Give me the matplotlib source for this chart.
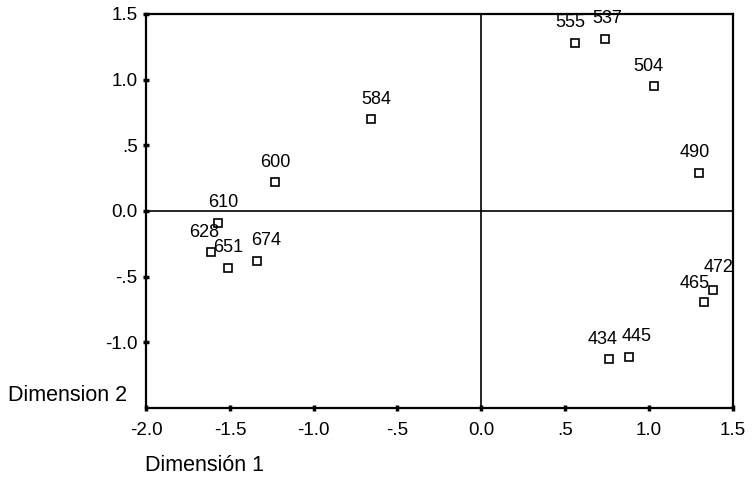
import numpy as np
import matplotlib
matplotlib.use("Agg")
import matplotlib.pyplot as plt

# MDS coordinates
labels = ["555", "537", "504", "490", "472", "465", "434", "445",
          "584", "600", "610", "628", "651", "674"]
dim1 = [0.56, 0.74, 1.03, 1.30, 1.38, 1.33, 0.76, 0.88,
        -0.66, -1.23, -1.57, -1.61, -1.51, -1.34]
dim2 = [1.28, 1.31, 0.95, 0.29, -0.60, -0.69, -1.13, -1.11,
        0.70, 0.22, -0.09, -0.31, -0.43, -0.38]

xticks = [-2.0, -1.5, -1.0, -0.5, 0.0, 0.5, 1.0, 1.5]
xticklabels = ["-2.0", "-1.5", "-1.0", "-.5", "0.0", ".5", "1.0", "1.5"]
yticks = [-1.0, -0.5, 0.0, 0.5, 1.0, 1.5]
yticklabels = ["-1.0", "-.5", "0.0", ".5", "1.0", "1.5"]

# small label nudges (pixels) for the crowded ones
nudge = {"555": (-5, 20), "537": (2, 20), "628": (-7, 19), "465": (-9, 18),
         "472": (6, 22), "674": (9, 20), "445": (8, 20), "434": (-6, 20),
         "584": (6, 20), "504": (-6, 20), "490": (-4, 20), "610": (5, 20)}

plt.rcParams['font.family'] = ['Liberation Sans', 'DejaVu Sans']

fig = plt.figure(figsize=(7.53, 4.79), dpi=100)
ax = fig.add_axes([0.194, 0.148, 0.779, 0.823])

ax.axhline(0, color='black', lw=1.2, zorder=1)
ax.axvline(0, color='black', lw=1.2, zorder=1)

ax.plot(dim1, dim2, linestyle='none', marker='s', markersize=5.5,
        markerfacecolor='white', markeredgecolor='black', markeredgewidth=1.2,
        zorder=3)

for lab, x, y in zip(labels, dim1, dim2):
    ax.annotate(lab, (x, y), xytext=nudge.get(lab, (0, 20)),
                textcoords='offset pixels', ha='center', va='center',
                fontsize=13, color='black')

ax.set_xlim(-2.0, 1.5)
ax.set_ylim(-1.5, 1.5)
ax.set_xticks(xticks)
ax.set_xticklabels(xticklabels)
ax.set_yticks(yticks)
ax.set_yticklabels(yticklabels)
ax.tick_params(direction='inout', length=4, width=2.5, labelsize=13.5,
               colors='black')
ax.tick_params(axis='x', pad=8)
ax.tick_params(axis='y', pad=4)

for sp in ax.spines.values():
    sp.set_linewidth(1.6)
    sp.set_color('black')

fig.text(0.010, 0.175, "Dimension 2", fontsize=15.5, ha='left', va='center')
fig.text(0.193, 0.029, "Dimensión 1", fontsize=15.5, ha='left', va='center')

fig.savefig("out.png", dpi=100)
